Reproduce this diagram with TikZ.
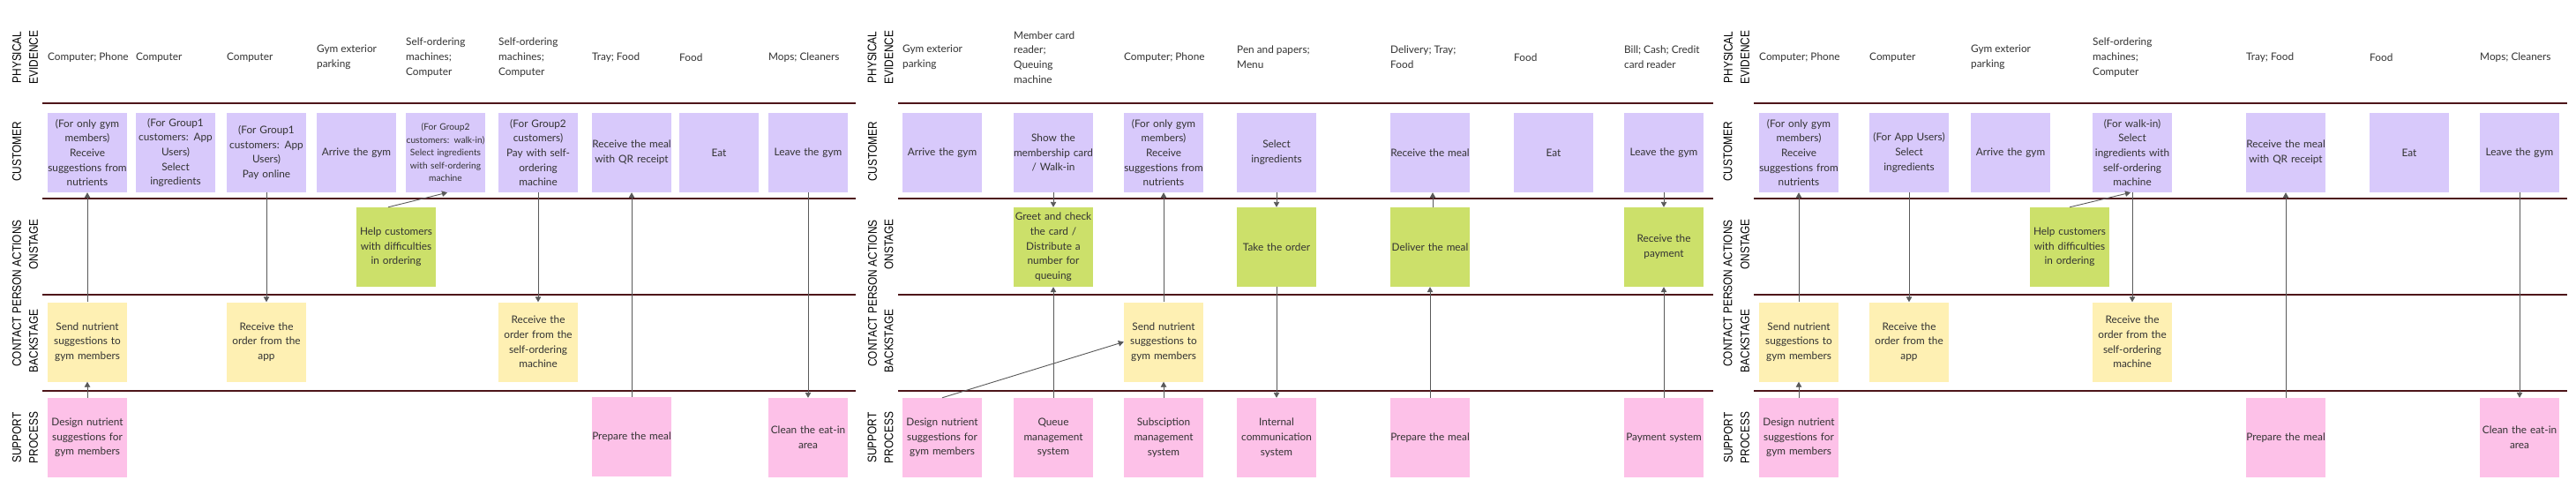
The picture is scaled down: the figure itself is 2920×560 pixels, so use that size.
\documentclass[tikz,border=0pt]{standalone}
\usepackage{fontspec}
\setmainfont{Lato}
\newfontfamily\labelfont[FakeStretch=0.85]{Liberation Sans}
\usetikzlibrary{arrows.meta}
\definecolor{cpurple}{HTML}{D8C9FB}
\definecolor{cgreen}{HTML}{CCE06A}
\definecolor{cyellow}{HTML}{FEF0B3}
\definecolor{cpink}{HTML}{FDC1E8}
\definecolor{sepcol}{HTML}{4D1519}
\definecolor{arrcol}{HTML}{595959}
\definecolor{txtcol}{HTML}{333333}
\tikzset{
  boxbase/.style={minimum width=90pt, minimum height=90pt, inner sep=0pt, text width=90pt, align=center, text=txtcol, font=\fontsize{11.8}{16.7}\selectfont},
  cust/.style={boxbase, fill=cpurple},
  onst/.style={boxbase, fill=cgreen},
  back/.style={boxbase, fill=cyellow},
  supp/.style={boxbase, fill=cpink},
  smalltxt/.style={font=\fontsize{10.2}{14.5}\selectfont},
  evid/.style={anchor=west, inner sep=0pt, align=left, text=txtcol, font=\fontsize{11.8}{16.7}\selectfont},
  rowlab/.style={rotate=90, inner sep=0pt, align=center, text=black, font=\labelfont\fontsize{14}{19}\selectfont},
  sepline/.style={draw=sepcol, line width=2.6pt},
  conn/.style={draw=arrcol, line width=0.9pt, -{Triangle[length=6pt,width=6.5pt]}}
}
\begin{document}
\begin{tikzpicture}[x=1pt,y=-1pt]
\useasboundingbox (0,0) rectangle (2920,560);
\fill[white] (0,0) rectangle (2920,560);

% separator lines
\foreach \yy in {117,225,334,443}{
  \draw[sepline] (48,\yy) -- (970,\yy);
  \draw[sepline] (1018,\yy) -- (1942,\yy);
  \draw[sepline] (1988,\yy) -- (2910,\yy);
}

% row labels
\foreach \cx/\lx/\rx/\nm in {28.5/19/38/a, 998/989/1007.5/b, 1968.5/1958.5/1978/c}{
  \node[rowlab] (lpe\nm) at (\cx,65) {PHYSICAL\\EVIDENCE};
  \node[rowlab] (lcu\nm) at (\lx,172) {CUSTOMER};
  \node[rowlab] (lcp\nm) at (\lx,332.5) {CONTACT PERSON ACTIONS};
  \node[rowlab] (lon\nm) at (\rx,277) {ONSTAGE};
  \node[rowlab] (lba\nm) at (\rx,386.5) {BACKSTAGE};
  \node[rowlab] (lsu\nm) at (\cx,496) {SUPPORT\\PROCESS};
}

% ===== Panel 1 =====
\node[evid] (p11) at (54,65) {Computer; Phone};
\node[evid] (p12) at (154,65) {Computer};
\node[evid] (p13) at (257,65) {Computer};
\node[evid] (p14) at (359,65) {Gym exterior\\parking};
\node[evid] (p15) at (460,65) {Self-ordering\\machines;\\Computer};
\node[evid] (p16) at (565,65) {Self-ordering\\machines;\\Computer};
\node[evid] (p17) at (671,65) {Tray; Food};
\node[evid] (p18) at (770,65) {Food};
\node[evid] (p19) at (871,65) {Mops; Cleaners};

\node[cust] (c11) at (99,173) {(For only gym\\members)\\Receive\\suggestions from\\nutrients};
\node[cust] (c12) at (199,173) {(For Group1\\customers: App\\Users)\\Select\\ingredients};
\node[cust] (c13) at (302,173) {(For Group1\\customers: App\\Users)\\Pay online};
\node[cust] (c14) at (404,173) {Arrive the gym};
\node[cust, smalltxt] (c15) at (505,173) {(For Group2\\customers: walk-in)\\Select ingredients\\with self-ordering\\machine};
\node[cust] (c16) at (610,173) {(For Group2\\customers)\\Pay with self-\\ordering\\machine};
\node[cust] (c17) at (716,173) {Receive the meal\\with QR receipt};
\node[cust] (c18) at (815,173) {Eat};
\node[cust] (c19) at (916,173) {Leave the gym};

\node[onst] (h1) at (449,280) {Help customers\\with difficulties\\in ordering};

\node[back] (b11) at (99,387.5) {Send nutrient\\suggestions to\\gym members};
\node[back] (b13) at (302,387.5) {Receive the\\order from the\\app};
\node[back] (b16) at (610,387.5) {Receive the\\order from the\\self-ordering\\machine};

\node[supp] (s11) at (99,496) {Design nutrient\\suggestions for\\gym members};
\node[supp] (s17) at (716,495) {Prepare the meal};
\node[supp] (s19) at (916,496) {Clean the eat-in\\area};

\draw[conn] (b11.north) -- (c11.south);
\draw[conn] (s11.north) -- (b11.south);
\draw[conn] (c13.south) -- (b13.north);
\draw[conn] ([xshift=-9pt]h1.north) -- ([xshift=2pt]c15.south);
\draw[conn] (c16.south) -- (b16.north);
\draw[conn] (s17.north) -- (c17.south);
\draw[conn] (c19.south) -- (s19.north);

% ===== Panel 2 =====
\node[evid] (p21) at (1023,65) {Gym exterior\\parking};
\node[evid] (p22) at (1149,65) {Member card\\reader;\\Queuing\\machine};
\node[evid] (p23) at (1274,65) {Computer; Phone};
\node[evid] (p24) at (1402,65) {Pen and papers;\\Menu};
\node[evid] (p25) at (1576,65) {Delivery; Tray;\\Food};
\node[evid] (p26) at (1716,65) {Food};
\node[evid] (p27) at (1841,65) {Bill; Cash; Credit\\card reader};

\node[cust] (c21) at (1068,173) {Arrive the gym};
\node[cust] (c22) at (1194,173) {Show the\\membership card\\/ Walk-in};
\node[cust] (c23) at (1319,173) {(For only gym\\members)\\Receive\\suggestions from\\nutrients};
\node[cust] (c24) at (1447,173) {Select\\ingredients};
\node[cust] (c25) at (1621,173) {Receive the meal};
\node[cust] (c26) at (1761,173) {Eat};
\node[cust] (c27) at (1886,173) {Leave the gym};

\node[onst] (o22) at (1194,280) {Greet and check\\the card /\\Distribute a\\number for\\queuing};
\node[onst] (o24) at (1447,280) {Take the order};
\node[onst] (o25) at (1621,280) {Deliver the meal};
\node[onst] (o27) at (1886,280) {Receive the\\payment};

\node[back] (b23) at (1319,387.5) {Send nutrient\\suggestions to\\gym members};

\node[supp] (s21) at (1068,496) {Design nutrient\\suggestions for\\gym members};
\node[supp] (s22) at (1194,496) {Queue\\management\\system};
\node[supp] (s23) at (1319,496) {Subsciption\\management\\system};
\node[supp] (s24) at (1447,496) {Internal\\communication\\system};
\node[supp] (s25) at (1621,496) {Prepare the meal};
\node[supp] (s27) at (1886,496) {Payment system};

\draw[conn] (c22.south) -- (o22.north);
\draw[conn] (s22.north) -- (o22.south);
\draw[conn] (s21.north) -- (b23.west);
\draw[conn] (b23.north) -- (c23.south);
\draw[conn] (s23.north) -- (b23.south);
\draw[conn] (c24.south) -- (o24.north);
\draw[conn] (o24.south) -- (s24.north);
\draw[conn] (s25.north) -- (o25.south);
\draw[conn] ([xshift=3pt]o25.north) -- ([xshift=3pt]c25.south);
\draw[conn] (c27.south) -- (o27.north);
\draw[conn] (s27.north) -- (o27.south);

% ===== Panel 3 =====
\node[evid] (p31) at (1994,65) {Computer; Phone};
\node[evid] (p32) at (2119,65) {Computer};
\node[evid] (p33) at (2234,65) {Gym exterior\\parking};
\node[evid] (p34) at (2372,65) {Self-ordering\\machines;\\Computer};
\node[evid] (p35) at (2546,65) {Tray; Food};
\node[evid] (p36) at (2686,65) {Food};
\node[evid] (p37) at (2811,65) {Mops; Cleaners};

\node[cust] (c31) at (2039,173) {(For only gym\\members)\\Receive\\suggestions from\\nutrients};
\node[cust] (c32) at (2164,173) {(For App Users)\\Select\\ingredients};
\node[cust] (c33) at (2279,173) {Arrive the gym};
\node[cust] (c34) at (2417,173) {(For walk-in)\\Select\\ingredients with\\self-ordering\\machine};
\node[cust] (c35) at (2591,173) {Receive the meal\\with QR receipt};
\node[cust] (c36) at (2731,173) {Eat};
\node[cust] (c37) at (2856,173) {Leave the gym};

\node[onst] (h3) at (2346,280) {Help customers\\with difficulties\\in ordering};

\node[back] (b31) at (2039,387.5) {Send nutrient\\suggestions to\\gym members};
\node[back] (b32) at (2164,387.5) {Receive the\\order from the\\app};
\node[back] (b34) at (2417,387.5) {Receive the\\order from the\\self-ordering\\machine};

\node[supp] (s31) at (2039,496) {Design nutrient\\suggestions for\\gym members};
\node[supp] (s35) at (2591,496) {Prepare the meal};
\node[supp] (s37) at (2856,496) {Clean the eat-in\\area};

\draw[conn] (b31.north) -- (c31.south);
\draw[conn] (s31.north) -- (b31.south);
\draw[conn] (c32.south) -- (b32.north);
\draw[conn] (h3.north) -- ([xshift=-2pt]c34.south);
\draw[conn] (c34.south) -- (b34.north);
\draw[conn] (s35.north) -- (c35.south);
\draw[conn] (c37.south) -- (s37.north);
\end{tikzpicture}
\end{document}
